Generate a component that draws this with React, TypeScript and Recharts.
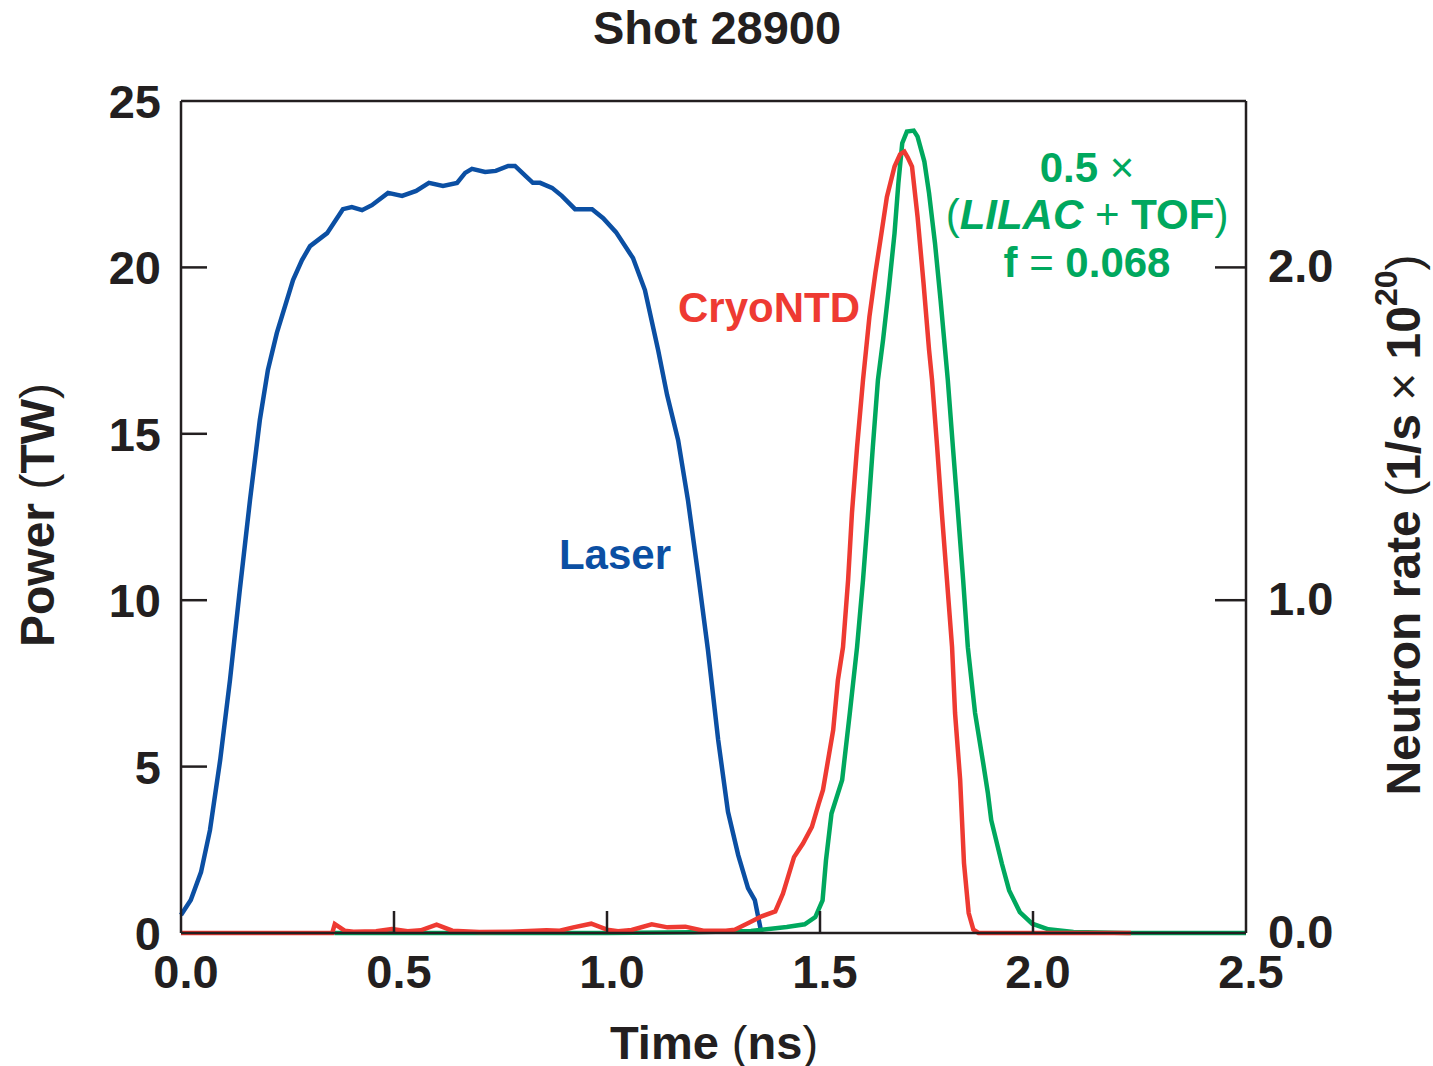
import { Line, LineChart, XAxis, YAxis } from "recharts";

// Laser power (TW) vs time (ns)
const laserTime = [
  0.0, 0.023, 0.047, 0.068, 0.092, 0.115, 0.138, 0.162, 0.185, 0.204, 0.225, 0.263, 0.284, 0.303,
  0.343, 0.38, 0.401, 0.425, 0.448, 0.486, 0.519, 0.552, 0.582, 0.615, 0.648, 0.667, 0.683, 0.714,
  0.739, 0.768, 0.784, 0.808, 0.826, 0.843, 0.871, 0.894, 0.925, 0.965, 0.991, 1.021, 1.061, 1.089,
  1.12, 1.141, 1.167, 1.19, 1.214, 1.237, 1.261, 1.284, 1.308, 1.331, 1.347, 1.362,
];
const laserPower = [
  0.54, 0.99, 1.83, 3.09, 5.2, 7.6, 10.31, 13.01, 15.41, 16.92, 18.03, 19.62, 20.22, 20.64,
  21.03, 21.75, 21.81, 21.72, 21.87, 22.24, 22.15, 22.3, 22.54, 22.45, 22.54, 22.84, 22.96, 22.87,
  22.9, 23.05, 23.05, 22.76, 22.54, 22.54, 22.39, 22.15, 21.75, 21.75, 21.48, 21.06, 20.28, 19.32,
  17.52, 16.17, 14.81, 13.01, 10.76, 8.5, 5.8, 3.64, 2.34, 1.35, 0.99, 0.03,
];

// CryoNTD neutron rate (1/s x 1e20)
const cryoTime = [
  0, 0.355, 0.361, 0.384, 0.405, 0.458, 0.495, 0.532, 0.563, 0.6, 0.637, 0.7, 0.774, 0.858, 0.889,
  0.921, 0.963, 1.0, 1.026, 1.058, 1.105, 1.142, 1.184, 1.226, 1.279, 1.3, 1.332, 1.363, 1.395,
  1.413, 1.439, 1.46, 1.481, 1.497, 1.507, 1.531, 1.542, 1.554, 1.566, 1.575, 1.587, 1.601, 1.616,
  1.63, 1.643, 1.657, 1.675, 1.688, 1.698, 1.706, 1.716, 1.729, 1.743, 1.756, 1.763, 1.775, 1.786,
  1.798, 1.81, 1.817, 1.829, 1.838, 1.849, 1.86, 1.872, 2.23,
];
const cryoRate = [
  0, 0, 0.027, 0.007, 0.004, 0.005, 0.012, 0.005, 0.008, 0.025, 0.007, 0.003, 0.004, 0.008, 0.007,
  0.017, 0.028, 0.01, 0.005, 0.009, 0.026, 0.017, 0.019, 0.007, 0.007, 0.01, 0.03, 0.05, 0.065,
  0.118, 0.228, 0.269, 0.319, 0.389, 0.43, 0.61, 0.76, 0.859, 1.061, 1.262, 1.46, 1.662, 1.852,
  1.983, 2.092, 2.212, 2.303, 2.34, 2.348, 2.33, 2.303, 2.152, 1.953, 1.752, 1.662, 1.46, 1.262,
  1.061, 0.859, 0.661, 0.46, 0.21, 0.06, 0.01, 0, 0,
];

// 0.5 x (LILAC + TOF) neutron rate
const lilacTime = [
  0.36, 1.0, 1.2, 1.338, 1.422, 1.464, 1.489, 1.506, 1.514, 1.527, 1.552, 1.57, 1.587, 1.601, 1.613,
  1.624, 1.636, 1.648, 1.662, 1.675, 1.684, 1.693, 1.704, 1.72, 1.729, 1.745, 1.756, 1.77, 1.783,
  1.8, 1.812, 1.824, 1.836, 1.847, 1.864, 1.883, 1.894, 1.902, 1.927, 1.944, 1.969, 1.998, 2.036,
  2.095, 2.22, 2.5,
];
const lilacRate = [
  0, 0, 0.002, 0.006, 0.018, 0.026, 0.048, 0.098, 0.218, 0.359, 0.46, 0.661, 0.859, 1.061, 1.262,
  1.46, 1.662, 1.782, 1.942, 2.103, 2.253, 2.373, 2.408, 2.411, 2.393, 2.318, 2.223, 2.072, 1.902,
  1.662, 1.46, 1.262, 1.061, 0.859, 0.661, 0.511, 0.421, 0.339, 0.208, 0.128, 0.063, 0.028, 0.011,
  0.003, 0, 0,
];

const timeTicks = [0, 0.5, 1, 1.5, 2, 2.5];
const powerTicks = [0, 5, 10, 15, 20, 25];
const rateTicks = [0, 1, 2];

const laserData = laserTime.map((t, i) => ({ t, v: laserPower[i] }));
const cryoData = cryoTime.map((t, i) => ({ t, v: cryoRate[i] }));
const lilacData = lilacTime.map((t, i) => ({ t, v: lilacRate[i] }));

const INK = "#231f20";
const BLUE = "#0b4fa3";
const RED = "#ee3a32";
const GREEN = "#00a85e";
const FONT = "'Liberation Sans', Arial, Helvetica, sans-serif";
const THIN = { fontWeight: 400 };

const BottomTick = ({ x, y, payload }: any) => {
  const v = payload.value;
  const edge = v === 0 || v === 2.5;
  return (
    <g>
      {!edge && <line x1={x} y1={y} x2={x} y2={y - 22} stroke={INK} strokeWidth={2.5} />}
      <text x={x + 5} y={y + 55} textAnchor="middle" fontSize={47} fontWeight={700} fill={INK} fontFamily={FONT}>
        {v.toFixed(1)}
      </text>
    </g>
  );
};

const TopTick = ({ x, y, payload }: any) => {
  const v = payload.value;
  if (v === 0 || v === 2.5) return <g />;
  return <line x1={x} y1={y} x2={x} y2={y + 22} stroke={INK} strokeWidth={2.5} />;
};

const LeftTick = ({ x, y, payload }: any) => {
  const v = payload.value;
  const edge = v === 0 || v === 25;
  return (
    <g>
      {!edge && <line x1={x} y1={y} x2={x + 26} y2={y} stroke={INK} strokeWidth={2.5} />}
      <text x={x - 20} y={y + 17} textAnchor="end" fontSize={47} fontWeight={700} fill={INK} fontFamily={FONT}>
        {v}
      </text>
    </g>
  );
};

const RightTick = ({ x, y, payload }: any) => {
  const v = payload.value;
  return (
    <g>
      {v !== 0 && <line x1={x} y1={y} x2={x - 31} y2={y} stroke={INK} strokeWidth={2.5} />}
      <text x={x + 22} y={y + 15} textAnchor="start" fontSize={47} fontWeight={700} fill={INK} fontFamily={FONT}>
        {v.toFixed(1)}
      </text>
    </g>
  );
};

const label = (x: number, y: number, color: string, size: number, rotate = false): React.CSSProperties => ({
  position: "absolute",
  left: x,
  top: y,
  transform: `translate(-50%, -50%)${rotate ? " rotate(-90deg)" : ""}`,
  color,
  fontSize: size,
  fontWeight: 700,
  fontFamily: FONT,
  lineHeight: 1.25,
  whiteSpace: "nowrap",
  textAlign: "center",
});

export default function App() {
  return (
    <div style={{ position: "absolute", left: 0, top: 0, width: 1433, height: 1066, background: "#fff" }}>
      <LineChart width={1433} height={1066} margin={{ top: 100, right: 127, bottom: 73, left: 121 }}>
        <XAxis
          xAxisId="b"
          dataKey="t"
          type="number"
          domain={[0, 2.5]}
          ticks={timeTicks}
          height={60}
          tickSize={0}
          tickMargin={0}
          tickLine={false}
          axisLine={{ stroke: INK, strokeWidth: 2.5 }}
          tick={<BottomTick />}
          interval={0}
        />
        <XAxis
          xAxisId="top"
          orientation="top"
          dataKey="t"
          type="number"
          domain={[0, 2.5]}
          ticks={timeTicks}
          height={1}
          tickSize={0}
          tickMargin={0}
          tickLine={false}
          axisLine={{ stroke: INK, strokeWidth: 2.5 }}
          tick={<TopTick />}
          interval={0}
        />
        <YAxis
          yAxisId="left"
          type="number"
          domain={[0, 25]}
          ticks={powerTicks}
          width={60}
          tickSize={0}
          tickMargin={0}
          tickLine={false}
          axisLine={{ stroke: INK, strokeWidth: 2.5 }}
          tick={<LeftTick />}
          interval={0}
        />
        <YAxis
          yAxisId="right"
          orientation="right"
          type="number"
          domain={[0, 2.5]}
          ticks={rateTicks}
          width={60}
          tickSize={0}
          tickMargin={0}
          tickLine={false}
          axisLine={{ stroke: INK, strokeWidth: 2.5 }}
          tick={<RightTick />}
          interval={0}
        />
        <Line
          xAxisId="b"
          yAxisId="left"
          data={laserData}
          dataKey="v"
          type="linear"
          stroke={BLUE}
          strokeWidth={4.5}
          dot={false}
          isAnimationActive={false}
        />
        <Line
          xAxisId="b"
          yAxisId="right"
          data={lilacData}
          dataKey="v"
          type="linear"
          stroke={GREEN}
          strokeWidth={4.5}
          dot={false}
          isAnimationActive={false}
        />
        <Line
          xAxisId="b"
          yAxisId="right"
          data={cryoData}
          dataKey="v"
          type="linear"
          stroke={RED}
          strokeWidth={4.5}
          dot={false}
          isAnimationActive={false}
        />
      </LineChart>

      <div style={label(717, 28, INK, 47)}>Shot 28900</div>
      <div style={label(714, 1043, INK, 47)}>
        Time <span style={THIN}>(</span>ns<span style={THIN}>)</span>
      </div>
      <div style={label(38, 515, INK, 48, true)}>
        Power <span style={THIN}>(</span>TW<span style={THIN}>)</span>
      </div>
      <div style={label(1402, 525, INK, 48, true)}>
        Neutron rate <span style={THIN}>(</span>1/s <span style={THIN}>×</span> 10
        <span style={{ fontSize: 32, verticalAlign: "0.7em", lineHeight: 1 }}>20</span>
        <span style={THIN}>)</span>
      </div>
      <div style={label(615, 555, BLUE, 42)}>Laser</div>
      <div style={label(769, 308, RED, 42)}>CryoNTD</div>
      <div style={label(1087, 168, GREEN, 42)}>
        0.5 <span style={THIN}>×</span>
      </div>
      <div style={label(1087, 215, GREEN, 42)}>
        <span style={THIN}>(</span>
        <i>LILAC</i> <span style={THIN}>+</span> TOF<span style={THIN}>)</span>
      </div>
      <div style={label(1087, 263, GREEN, 42)}>
        f <span style={THIN}>=</span> 0.068
      </div>
    </div>
  );
}
